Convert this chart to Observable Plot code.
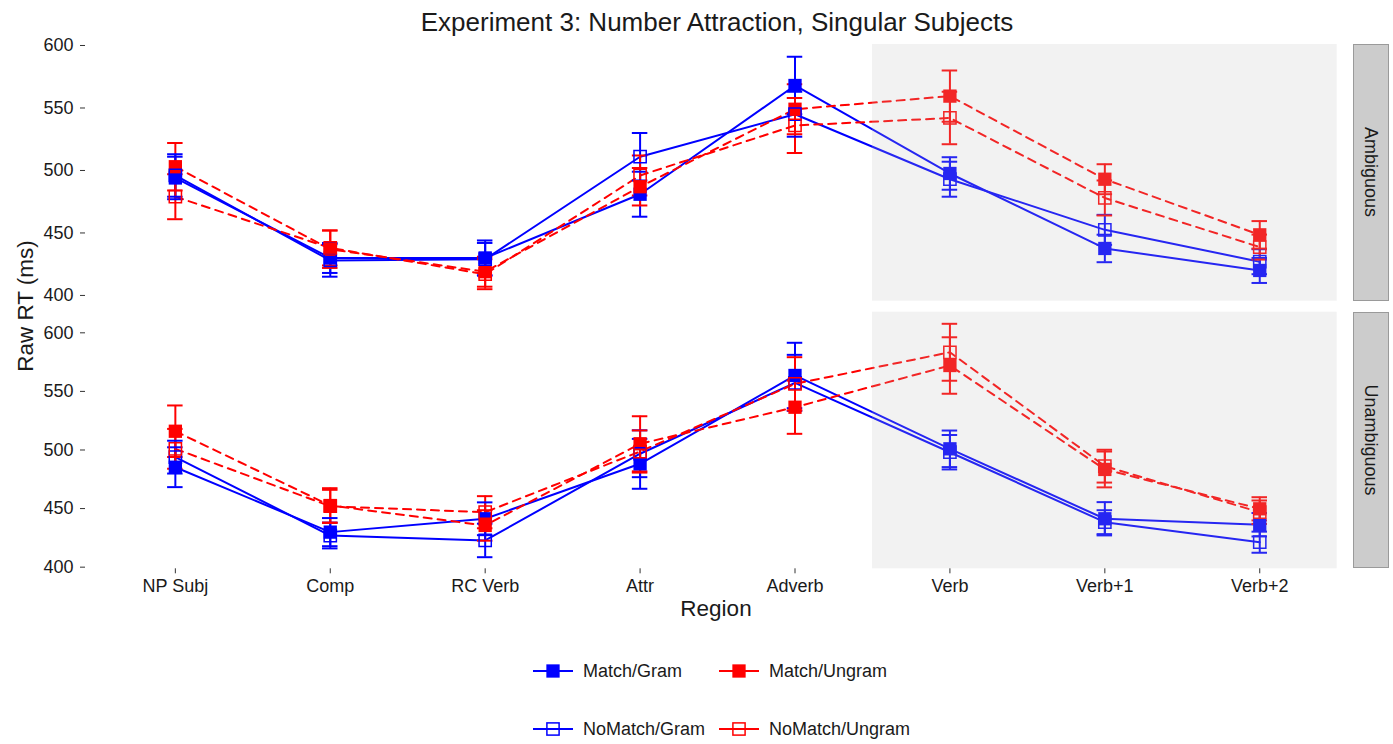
<!DOCTYPE html>
<html><head><meta charset="utf-8">
<script src="https://cdn.jsdelivr.net/npm/d3@7"></script>
<script src="https://cdn.jsdelivr.net/npm/@observablehq/plot@0.6"></script>
<style>
body{margin:0;background:#fff;font-family:"Liberation Sans",Arial,Helvetica,sans-serif;color:#1a1a1a}
#root{position:relative;width:1393px;height:744px;overflow:hidden;background:#fff}
.abs{position:absolute;white-space:nowrap;line-height:1}
.strip{position:absolute;background:#cccccc;border:1px solid #9a9a9a;box-sizing:border-box}
.strip span{position:absolute;left:50%;top:50%;transform:translate(-50%,-50%) rotate(90deg);font-size:18px;white-space:nowrap;line-height:1;color:#1a1a1a}
</style></head><body><div id="root"></div>
<script>
// ---- data ----
const regions = ["NP Subj","Comp","RC Verb","Attr","Adverb","Verb","Verb+1","Verb+2"];
const criticalRegions = ["Verb","Verb+1","Verb+2"];
const conditions = ["Match/Gram","Match/Ungram","NoMatch/Gram","NoMatch/Ungram"];
const condColors = ["#0000ff","#ff0000","#0000ff","#ff0000"];
const panels = ["Ambiguous","Unambiguous"];

// Ambiguous panel: means and standard errors (ms)
const ambMatchGram      = [494, 430, 430, 481, 568, 497.6, 437.6, 420];
const ambMatchGramSE    = [17, 12, 14, 18, 23, 13, 11, 10];
const ambMatchUngram    = [503, 437, 419, 487, 549, 559.5, 493, 448.5];
const ambMatchUngramSE  = [19, 15, 12, 15, 20, 20.5, 12, 11];
const ambNoMatchGram    = [496, 428, 429, 511, 545, 493, 452.5, 427];
const ambNoMatchGramSE  = [17, 13, 13, 19, 18, 14, 12, 10];
const ambNoMatchUngram  = [479, 438, 417, 496, 536, 542, 478, 438.7];
const ambNoMatchUngramSE= [18, 14, 12, 16, 22, 21, 14, 10];

// Unambiguous panel
const unMatchGram       = [485.3, 429.9, 441.3, 488.2, 563.6, 501, 441.3, 436.2];
const unMatchGramSE     = [17, 12, 14, 21.3, 27.9, 15.6, 14.2, 10];
const unMatchUngram     = [516, 452.6, 435.6, 505.3, 536.5, 572.1, 483.4, 449.8];
const unMatchUngramSE   = [22, 14.8, 13, 23.5, 22.7, 24.1, 15.3, 9.9];
const unNoMatchGram     = [493.9, 427, 422.8, 496.8, 557.3, 498.1, 438.4, 421.3];
const unNoMatchGramSE   = [14, 11, 14.3, 20, 23.9, 14.7, 10.2, 9];
const unNoMatchUngram   = [501, 452, 446.9, 498.7, 556.5, 583.4, 486.2, 446.9];
const unNoMatchUngramSE = [17, 14, 13.7, 18, 22.7, 24.3, 14, 10];

const yTicks = [400, 450, 500, 550, 600];

// ---- build rows ----
function rowsFor(means, ses) {
  const out = [];
  conditions.forEach((c, k) => {
    regions.forEach((r, j) => {
      out.push({i: j + 1, region: r, cond: c, color: condColors[k],
        match: !c.startsWith("NoMatch"), gram: !c.endsWith("Ungram"),
        mean: means[k][j], se: ses[k][j]});
    });
  });
  return out;
}
const ambRows = rowsFor([ambMatchGram, ambMatchUngram, ambNoMatchGram, ambNoMatchUngram],
                        [ambMatchGramSE, ambMatchUngramSE, ambNoMatchGramSE, ambNoMatchUngramSE]);
const unRows  = rowsFor([unMatchGram, unMatchUngram, unNoMatchGram, unNoMatchUngram],
                        [unMatchGramSE, unMatchUngramSE, unNoMatchGramSE, unNoMatchUngramSE]);

const critical = [{
  x1: regions.indexOf(criticalRegions[0]) + 1 - 0.5,
  x2: regions.indexOf(criticalRegions[criticalRegions.length - 1]) + 1 + 0.5
}];

const W = 1393, H = 744;
const FONT = '"Liberation Sans", Arial, Helvetica, sans-serif';

function panel(rows, yDomain, top, bottom, showX) {
  const g = rows.filter(d => d.gram), u = rows.filter(d => !d.gram);
  const crit = critical.map(c => ({...c, y1: yDomain[0], y2: yDomain[1]}));
  const marks = [
    Plot.line(g, {x: "i", y: "mean", z: "cond", stroke: d => d.color, strokeWidth: 2}),
    Plot.line(u, {x: "i", y: "mean", z: "cond", stroke: d => d.color, strokeWidth: 2, strokeDasharray: "8,6"}),
    Plot.ruleX(rows, {x: "i", y1: d => d.mean - d.se, y2: d => d.mean + d.se, stroke: d => d.color, strokeWidth: 2}),
    Plot.ruleY(rows, {y: d => d.mean + d.se, x1: d => d.i - 0.05, x2: d => d.i + 0.05, stroke: d => d.color, strokeWidth: 2}),
    Plot.ruleY(rows, {y: d => d.mean - d.se, x1: d => d.i - 0.05, x2: d => d.i + 0.05, stroke: d => d.color, strokeWidth: 2}),
    Plot.dot(rows.filter(d => d.match), {x: "i", y: "mean", symbol: "square", r: 7.5, fill: d => d.color, stroke: "none"}),
    Plot.dot(rows.filter(d => !d.match), {x: "i", y: "mean", symbol: "square", r: 6.9, fill: "none", stroke: d => d.color, strokeWidth: 1.5}),
    Plot.rect(crit, {x1: "x1", x2: "x2", y1: "y1", y2: "y2", fill: "#bebebe", fillOpacity: 0.2}),
    Plot.axisY({ticks: yTicks, tickSize: 5, tickPadding: 7, label: null, fontSize: 18, stroke: "#333"})
  ];
  if (showX) {
    marks.push(Plot.axisX({ticks: regions.map((r, j) => j + 1), tickFormat: v => regions[v - 1],
      tickSize: 5, tickPadding: 5, label: null, fontSize: 18, stroke: "#333"}));
  }
  const svg = Plot.plot({
    width: W, height: H,
    marginLeft: 85, marginRight: 47,
    marginTop: top, marginBottom: H - bottom,
    x: {type: "linear", domain: [0.42, 8.56], axis: null},
    y: {domain: yDomain, axis: null},
    style: {fontFamily: FONT, fontSize: "18px", color: "#1a1a1a", background: "transparent", overflow: "visible"},
    marks
  });
  svg.style.position = "absolute";
  svg.style.left = "0px";
  svg.style.top = "0px";
  return svg;
}

const root = document.getElementById("root");
root.appendChild(panel(ambRows, [395.4, 600.8], 44, 300.7, false));
root.appendChild(panel(unRows, [398.6, 617.6], 311.7, 568.3, true));

function addText(txt, x, y, size, extra) {
  const d = document.createElement("div");
  d.className = "abs";
  d.textContent = txt;
  d.style.fontSize = size + "px";
  d.style.left = x + "px";
  d.style.top = y + "px";
  d.style.transform = extra || "translate(-50%,-50%)";
  root.appendChild(d);
  return d;
}
// title
addText("Experiment 3: Number Attraction, Singular Subjects", 717, 22, 26);
// axis titles
addText("Region", 716, 609, 22.5);
addText("Raw RT (ms)", 25.5, 306, 22.5, "translate(-50%,-50%) rotate(-90deg)");

// strips
[[44, 300.7], [311.7, 568.3]].forEach(([t, b], k) => {
  const s = document.createElement("div");
  s.className = "strip";
  s.style.left = "1352.5px"; s.style.width = "36px";
  s.style.top = t + "px"; s.style.height = (b - t) + "px";
  const sp = document.createElement("span");
  sp.textContent = panels[k];
  s.appendChild(sp);
  root.appendChild(s);
});

// legend
const legendPos = [[533, 671], [719, 671], [533, 729], [719, 729]];
conditions.forEach((c, k) => {
  const [lx, ly] = legendPos[k];
  const ns = "http://www.w3.org/2000/svg";
  const sv = document.createElementNS(ns, "svg");
  sv.setAttribute("width", 42); sv.setAttribute("height", 20);
  sv.style.position = "absolute"; sv.style.left = (lx - 1) + "px"; sv.style.top = (ly - 10) + "px";
  const ln = document.createElementNS(ns, "line");
  ln.setAttribute("x1", 1); ln.setAttribute("x2", 41); ln.setAttribute("y1", 10); ln.setAttribute("y2", 10);
  ln.setAttribute("stroke", condColors[k]); ln.setAttribute("stroke-width", 2);
  sv.appendChild(ln);
  const rc = document.createElementNS(ns, "rect");
  const filled = !c.startsWith("NoMatch");
  if (filled) {
    rc.setAttribute("x", 21 - 6.65); rc.setAttribute("y", 10 - 6.65);
    rc.setAttribute("width", 13.3); rc.setAttribute("height", 13.3);
    rc.setAttribute("fill", condColors[k]);
  } else {
    rc.setAttribute("x", 21 - 6.1); rc.setAttribute("y", 10 - 6.1);
    rc.setAttribute("width", 12.2); rc.setAttribute("height", 12.2);
    rc.setAttribute("fill", "none"); rc.setAttribute("stroke", condColors[k]); rc.setAttribute("stroke-width", 1.5);
  }
  sv.appendChild(rc);
  root.appendChild(sv);
  addText(c, lx + 50, ly, 18, "translate(0,-50%)");
});
</script></body></html>
